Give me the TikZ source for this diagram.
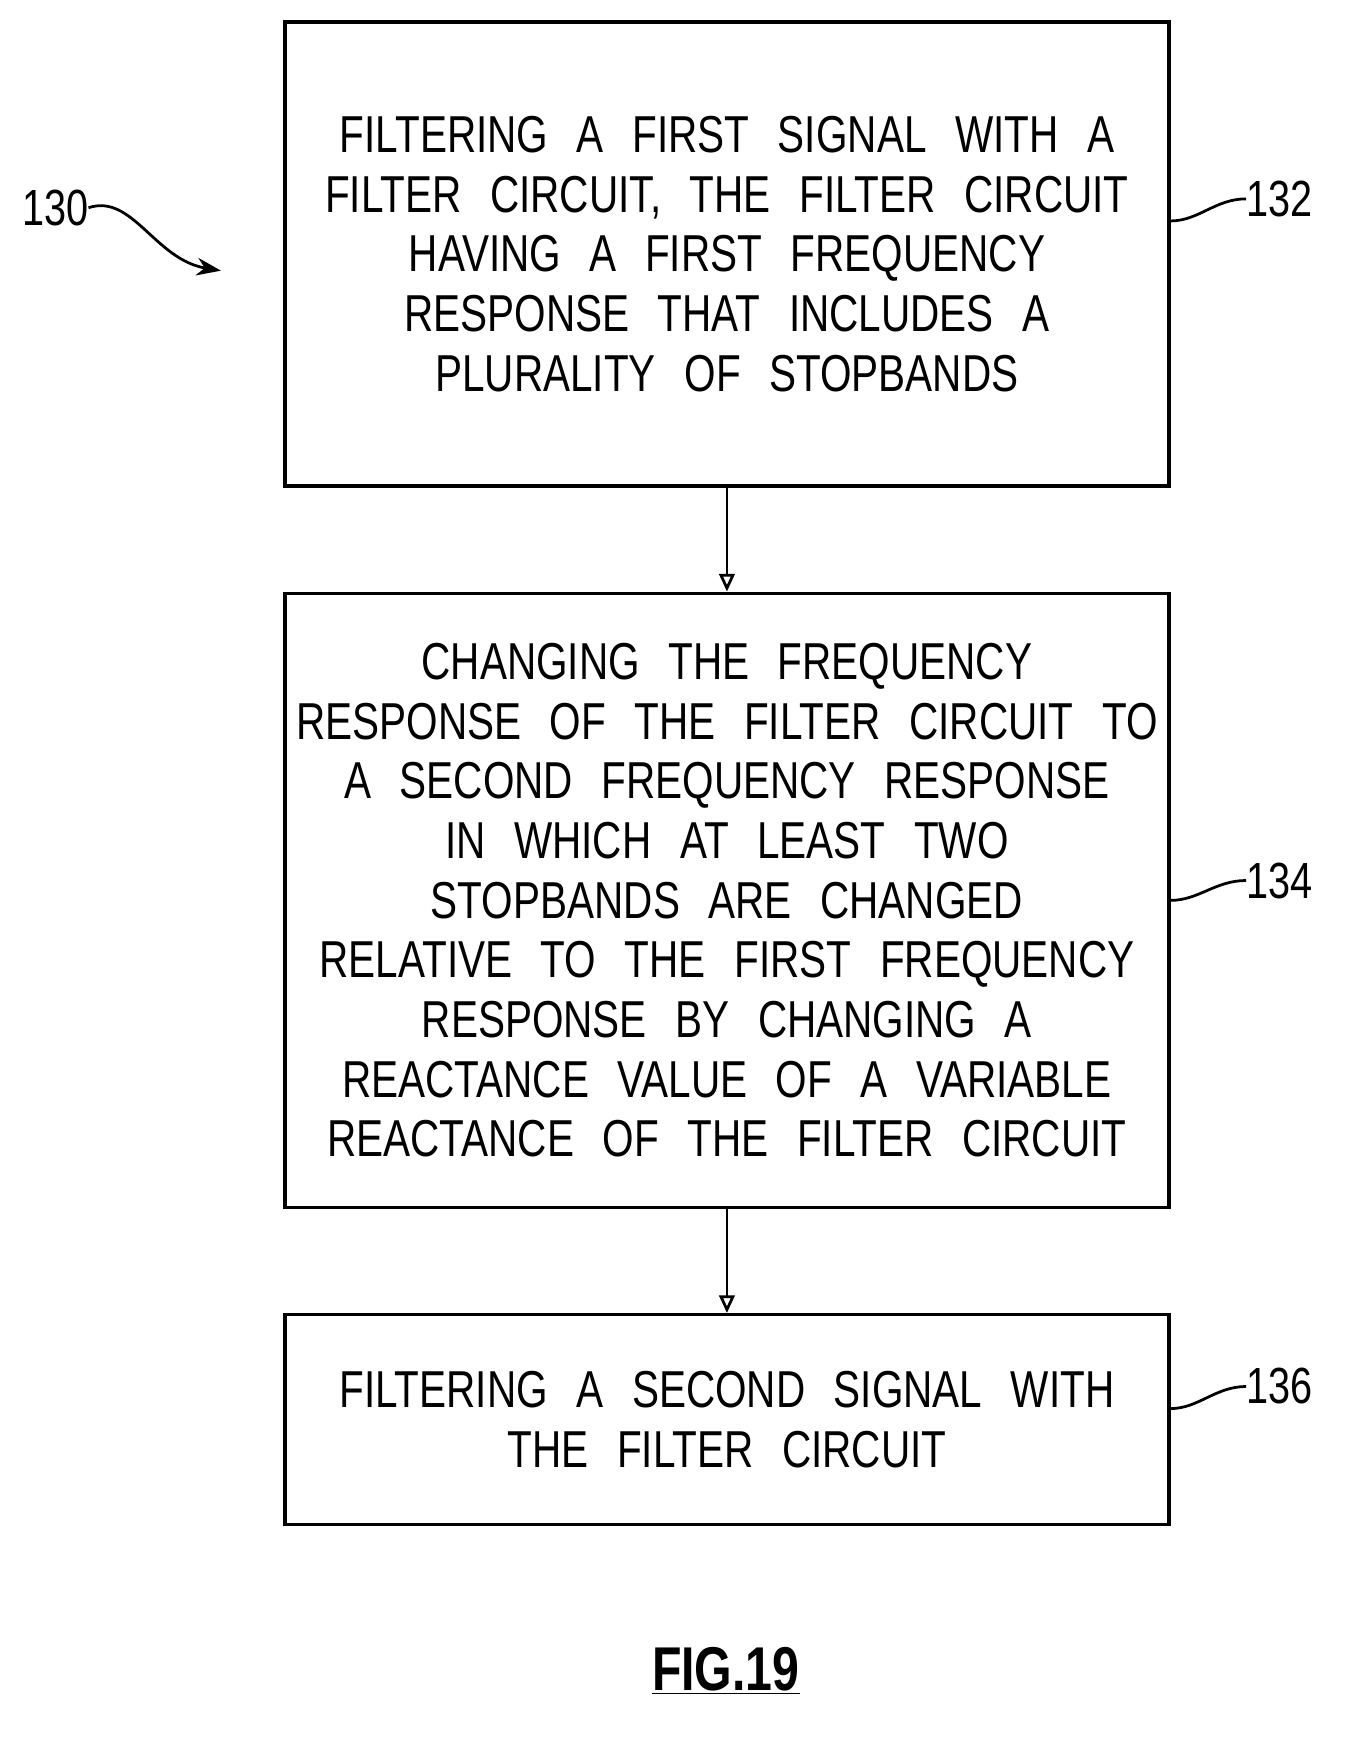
\documentclass[tikz,border=0pt]{standalone}
\usepackage{fontspec}
\setmainfont[FakeStretch=0.78]{Liberation Sans}
\usetikzlibrary{arrows.meta}
\newcommand\myboxfont{\fontsize{47}{54}\selectfont\spaceskip=0.55em\relax}
\begin{document}
\begin{tikzpicture}[x=1pt,y=-1pt,
  box/.style={draw,line width=3pt,minimum width=800pt,align=center,inner sep=0pt,
    font=\myboxfont},
  arr/.style={line width=2.5pt,-{Triangle[length=16pt,width=14pt,open]}},
  lead/.style={line width=2.5pt},
  lab/.style={font=\fontsize{46}{50}\selectfont,anchor=west,inner sep=0pt}]
\useasboundingbox (0,0) rectangle (1220,1575);
\node[box,minimum height=420pt] (b1) at (658,230) {FILTERING A FIRST SIGNAL WITH A\\FILTER CIRCUIT, THE FILTER CIRCUIT\\HAVING A FIRST FREQUENCY\\RESPONSE THAT INCLUDES A\\PLURALITY OF STOPBANDS};
\node[box,minimum height=556pt] (b2) at (658,815) {CHANGING THE FREQUENCY\\RESPONSE OF THE FILTER CIRCUIT TO\\A SECOND FREQUENCY RESPONSE\\IN WHICH AT LEAST TWO\\STOPBANDS ARE CHANGED\\RELATIVE TO THE FIRST FREQUENCY\\RESPONSE BY CHANGING A\\REACTANCE VALUE OF A VARIABLE\\REACTANCE OF THE FILTER CIRCUIT};
\node[box,minimum height=190pt] (b3) at (658,1285) {FILTERING A SECOND SIGNAL WITH\\THE FILTER CIRCUIT};
\draw[arr] (b1) -- (b2);
\draw[arr] (b2) -- (b3);
\node[lab] (l132) at (1128,180) {132};
\node[lab] (l134) at (1128,797) {134};
\node[lab] (l136) at (1128,1255) {136};
\draw[lead] (b1.east |- 0,200) .. controls (1085,200) and (1100,180) .. (l132.west);
\draw[lead] (b2.east |- 0,815) .. controls (1085,815) and (1100,797) .. (l134.west);
\draw[lead] (b3.east |- 0,1275) .. controls (1085,1275) and (1100,1255) .. (l136.west);
\node[font=\fontsize{46}{50}\selectfont,inner sep=0pt] (l130) at (50,188) {130};
\coordinate (t130) at (200,245);
\draw[line width=2.5pt,-{Stealth[length=22pt,width=16pt]}] (l130.east) .. controls (120,175) and (140,235) .. (t130);
\node[font=\bfseries\fontsize{56}{60}\selectfont,inner sep=2pt] (fig) at (657,1512) {\underline{FIG.19}};
\end{tikzpicture}
\end{document}
